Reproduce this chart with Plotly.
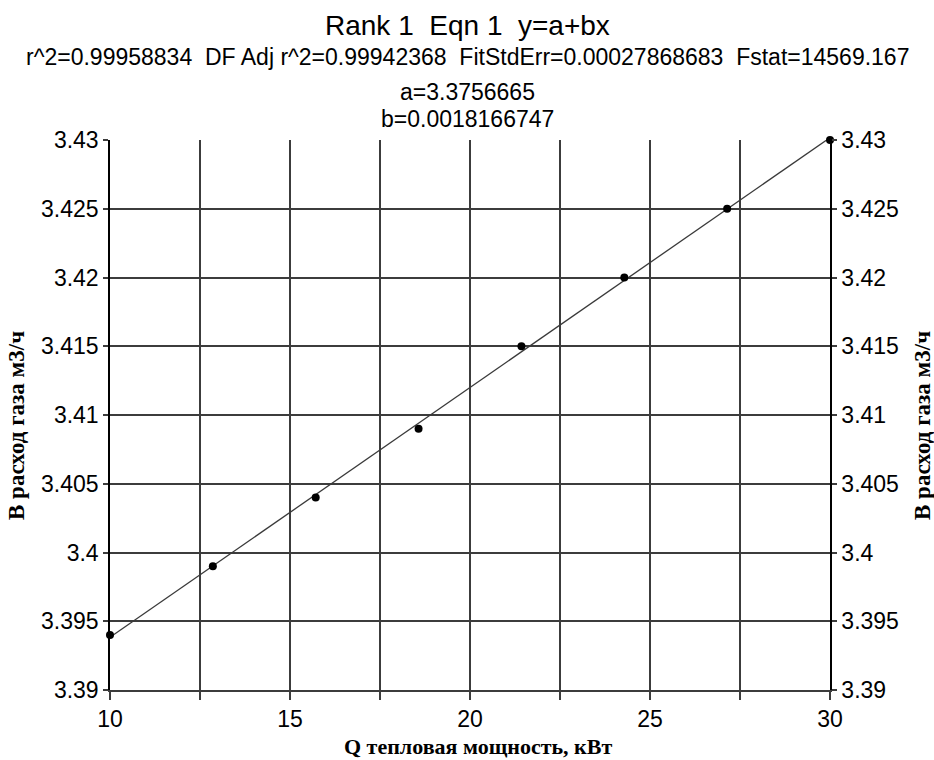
import plotly.graph_objects as go

# Measured data: heat output (kW) vs. gas flow rate (m3/h)
q_kw = [10.0, 12.857, 15.714, 18.571, 21.429, 24.286, 27.143, 30.0]
gas_flow = [3.394, 3.399, 3.404, 3.409, 3.415, 3.420, 3.425, 3.430]

# Linear fit parameters y = a + b*x
fit_a = 3.3756665
fit_b = 0.0018166747
fit_x = [10.0, 30.0]

x_ticks = [10, 12.5, 15, 17.5, 20, 22.5, 25, 27.5, 30]
x_ticktext = ["10", "", "15", "", "20", "", "25", "", "30"]
y_ticks = [3.39, 3.395, 3.40, 3.405, 3.41, 3.415, 3.42, 3.425, 3.43]
y_ticktext = ["3.39", "3.395", "3.4", "3.405", "3.41", "3.415", "3.42", "3.425", "3.43"]

title_lines = [
    "Rank 1  Eqn 1  y=a+bx",
    "r^2=0.99958834  DF Adj r^2=0.99942368  FitStdErr=0.00027868683  Fstat=14569.167",
    "a=3.3756665",
    "b=0.0018166747",
]
x_title = "Q тепловая мощность, кВт"
y_title = "В расход газа м3/ч"

W, H = 934, 760
L, R, T, B = 110, 104, 140, 70
plot_w = W - L - R
plot_h = H - T - B

fit_y = [fit_a + fit_b * x for x in fit_x]

fig = go.Figure()
fig.add_trace(go.Scatter(
    x=fit_x, y=fit_y, mode="lines",
    line=dict(color="#3a3a3a", width=1.3),
    hoverinfo="skip", showlegend=False,
))
fig.add_trace(go.Scatter(
    x=q_kw, y=gas_flow, mode="markers",
    marker=dict(color="black", size=8),
    showlegend=False, cliponaxis=False,
))

sans = "Liberation Sans, Arial, sans-serif"
serif = "Liberation Serif, Times New Roman, serif"
grid_col = "#3c3c3c"
tick_font = dict(family=sans, size=23, color="black")

fig.update_layout(
    width=W, height=H,
    margin=dict(l=L, r=R, t=T, b=B),
    paper_bgcolor="white", plot_bgcolor="white",
    xaxis=dict(
        range=[10, 30], tickvals=x_ticks, ticktext=x_ticktext,
        showgrid=True, gridcolor=grid_col, gridwidth=1.5,
        ticks="outside", ticklen=8, tickcolor=grid_col, tickwidth=1.5,
        showline=True, linecolor=grid_col, linewidth=1.5,
        tickfont=tick_font, zeroline=False,
    ),
    yaxis=dict(
        range=[3.39, 3.43], tickvals=y_ticks, ticktext=y_ticktext,
        showgrid=True, gridcolor=grid_col, gridwidth=1.5,
        ticks="outside", ticklen=5, tickcolor=grid_col, tickwidth=1.5,
        showline=True, linecolor="black", linewidth=1.5,
        tickfont=tick_font, zeroline=False,
    ),
    yaxis2=dict(
        range=[3.39, 3.43], tickvals=y_ticks, ticktext=y_ticktext,
        overlaying="y", side="right", showgrid=False,
        ticks="outside", ticklen=5, tickcolor=grid_col, tickwidth=1.5,
        showline=True, linecolor="black", linewidth=1.5,
        tickfont=tick_font, zeroline=False,
    ),
)

# Invisible trace so the right-hand axis is rendered
fig.add_trace(go.Scatter(x=[10], y=[3.39], yaxis="y2", mode="markers",
                         marker=dict(opacity=0), hoverinfo="skip", showlegend=False))


def px_x(pix):
    return (pix - L) / plot_w


def px_y(pix):
    return (H - B - pix) / plot_h


title_y = [25, 57, 92, 119]
title_size = [28, 23, 23, 23]
for txt, yy, sz in zip(title_lines, title_y, title_size):
    fig.add_annotation(text=txt, xref="paper", yref="paper", x=px_x(467),
                       y=px_y(yy), xanchor="center", yanchor="middle", showarrow=False,
                       font=dict(family=sans, size=sz, color="black"))

fig.add_annotation(text="<b>" + x_title + "</b>", xref="paper", yref="paper",
                   x=px_x(478), y=px_y(746), xanchor="center", yanchor="middle",
                   showarrow=False, font=dict(family=serif, size=22, color="black"))
for px in (16, 922):
    fig.add_annotation(text="<b>" + y_title + "</b>", xref="paper", yref="paper",
                       x=px_x(px), y=px_y(426), xanchor="center", yanchor="middle",
                       textangle=-90, showarrow=False,
                       font=dict(family=serif, size=23, color="black"))

fig.write_html("out.html")
